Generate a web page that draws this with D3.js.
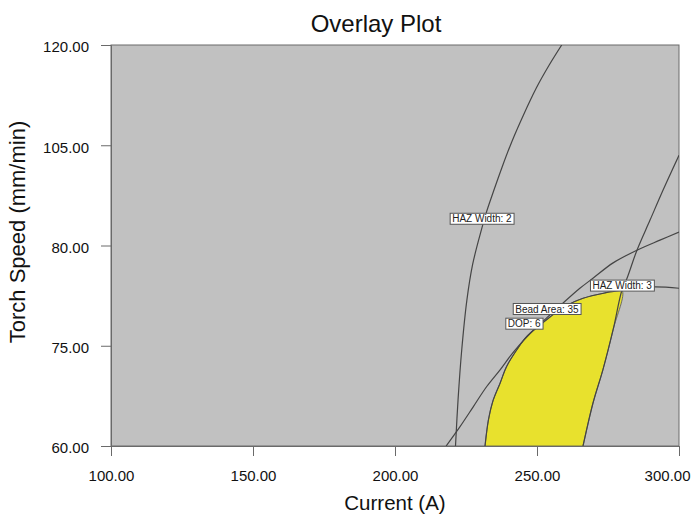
<!DOCTYPE html>
<html>
<head>
<meta charset="utf-8">
<script src="https://cdn.jsdelivr.net/npm/d3@7"></script>
<style>
    body { margin: 0; background: #fff; }
    text { font-family: "Liberation Sans", Arial, sans-serif; }
</style>
</head>
<body>
<div id="chart"></div>
<script>
// axis ticks (the y labels are printed as in the original figure)
const xTicks = [100, 150, 200, 250, 300];
const yTicks = [60, 75, 90, 105, 120];
const yTickLabels = ['60.00', '75.00', '80.00', '105.00', '120.00'];

// contour lines, [current, torch speed]
const hazWidth2 = [[221.3, 60], [222.2, 66.9], [223.5, 74.4], [225.3, 81.8], [227.3, 87.1],
    [230.2, 92.0], [232.2, 95.0], [234.6, 98.0], [237.6, 101.6],
    [241.1, 105.5], [245.2, 109.5], [249.8, 113.6], [254.3, 117.0], [258.7, 120]];
const beadArea35 = [[218.0, 60], [222.9, 62.9], [227.6, 65.9], [232.3, 68.9], [237.0, 71.4],
    [240.5, 73.4], [244.0, 75.2], [247.5, 76.8], [253.5, 79.2], [259.2, 81.4],
    [265.1, 83.6], [269.7, 85.1], [276.8, 87.4], [285.2, 89.3], [293.3, 90.8], [300, 92.0]];
const dop6 = [[231.7, 60], [232.9, 63.9], [234.6, 66.9], [237.0, 69.4], [239.3, 71.9],
    [242.9, 74.4], [246.4, 76.4], [251.1, 78.1], [254.6, 79.3], [259.9, 80.9],
    [266.2, 82.1], [273.9, 82.9], [279.9, 83.3], [290.8, 83.8], [300, 83.6]];
const hazWidth3 = [[266.2, 60], [269.7, 66.4], [273.2, 71.4], [276.8, 77.4], [279.9, 83.3],
    [281.7, 85.1], [285.2, 89.3], [289.8, 93.8], [294.4, 98.3], [300, 103.5]];

// flag labels
const flags = [
    { text: 'HAZ Width: 2', x: 230.6, y: 94.0 },
    { text: 'HAZ Width: 3', x: 280.0, y: 84.0 },
    { text: 'Bead Area: 35', x: 253.5, y: 80.5 },
    { text: 'DOP: 6', x: 245.5, y: 78.3 }
];

const width = 692, height = 515;
const margin = { top: 45, right: 13, bottom: 69, left: 111 };
const w = width - margin.left - margin.right;
const h = height - margin.top - margin.bottom;

const svg = d3.select('#chart').append('svg')
    .attr('width', width).attr('height', height);

const g = svg.append('g')
    .attr('transform', `translate(${margin.left},${margin.top})`);

const x = d3.scaleLinear().domain([100, 300]).range([0, w]);
const y = d3.scaleLinear().domain([60, 120]).range([h, 0]);

// plot background
g.append('rect')
    .attr('width', w).attr('height', h)
    .attr('fill', '#c1c1c1')
    .attr('stroke', '#6a6a6a');

const clip = g.append('clipPath').attr('id', 'clip');
clip.append('rect').attr('width', w).attr('height', h);

const plot = g.append('g').attr('clip-path', 'url(#clip)');

const lineCurve = d3.line()
    .x(d => x(d[0])).y(d => y(d[1]))
    .curve(d3.curveCatmullRom);

// feasible region: right of DOP 6, left of HAZ width 3
let iC = dop6.findIndex(d => d[0] === 279.9);
let iD = hazWidth3.findIndex(d => d[0] === 279.9);
let region = dop6.slice(0, iC + 1).concat(hazWidth3.slice(0, iD).reverse());
plot.append('path')
    .attr('d', lineCurve(region) + 'Z')
    .attr('fill', '#e8e12d')
    .attr('stroke', '#555')
    .attr('stroke-width', 0.8);

[hazWidth2, beadArea35, dop6, hazWidth3].forEach(pts => {
    plot.append('path')
        .attr('d', lineCurve(pts))
        .attr('fill', 'none')
        .attr('stroke', '#454545')
        .attr('stroke-width', 1.2);
});

// labels
flags.forEach(f => {
    let lg = g.append('g').attr('transform', `translate(${x(f.x)},${y(f.y)})`);
    let t = lg.append('text')
        .attr('text-anchor', 'middle')
        .attr('dy', '0.36em')
        .attr('font-size', 10)
        .attr('fill', '#222')
        .text(f.text);
    let bb = t.node().getBBox();
    lg.insert('rect', 'text')
        .attr('x', bb.x - 2).attr('y', -5.5)
        .attr('width', bb.width + 4).attr('height', 11)
        .attr('fill', '#fff')
        .attr('stroke', '#555')
        .attr('stroke-width', 1);
});

// axes
const xAxis = d3.axisBottom(x).tickValues(xTicks).tickSize(10)
    .tickFormat(d3.format('.2f'));
const yAxis = d3.axisLeft(y).tickValues(yTicks).tickSize(10)
    .tickFormat((d, i) => yTickLabels[i]);

const gx = g.append('g')
    .attr('transform', `translate(0,${h})`)
    .call(xAxis);
const gy = g.append('g').call(yAxis);

[gx, gy].forEach(a => {
    a.select('.domain').attr('stroke', '#6a6a6a');
    a.selectAll('.tick line').attr('stroke', '#6a6a6a');
    a.selectAll('.tick text')
        .attr('font-size', 15)
        .attr('fill', '#111')
        .attr('font-family', '"Liberation Sans", Arial, sans-serif');
});
gx.selectAll('.tick text').attr('y', 24);
// last label is pushed left so it stays inside the page
gx.selectAll('.tick text').filter(d => d === 300)
    .attr('text-anchor', 'end').attr('x', 11);
gy.selectAll('.tick text').attr('x', -22).attr('dy', '0.45em');

// titles
svg.append('text')
    .attr('x', 376).attr('y', 32)
    .attr('text-anchor', 'middle')
    .attr('font-size', 24)
    .attr('fill', '#111')
    .text('Overlay Plot');

svg.append('text')
    .attr('x', 395).attr('y', 510)
    .attr('text-anchor', 'middle')
    .attr('font-size', 20.5)
    .attr('fill', '#111')
    .text('Current (A)');

svg.append('text')
    .attr('transform', `translate(25,${232}) rotate(-90)`)
    .attr('text-anchor', 'middle')
    .attr('font-size', 22)
    .attr('fill', '#111')
    .text('Torch Speed (mm/min)');
</script>
</body>
</html>
